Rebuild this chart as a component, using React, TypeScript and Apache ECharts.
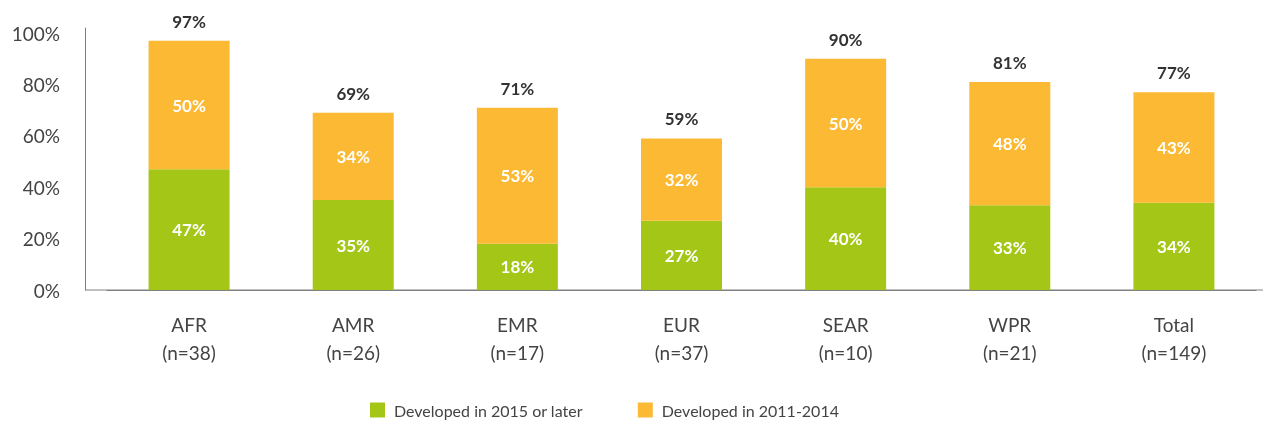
import React, { useEffect, useRef } from "react";
import * as echarts from "echarts";

const categories = ["AFR\n(n=38)", "AMR\n(n=26)", "EMR\n(n=17)", "EUR\n(n=37)", "SEAR\n(n=10)", "WPR\n(n=21)", "Total\n(n=149)"];
const developed2015Later = [47, 35, 18, 27, 40, 33, 34];
const developed2011to2014 = [50, 34, 53, 32, 50, 48, 43];
const totals = [97, 69, 71, 59, 90, 81, 77];
const seriesNames = ["Developed in 2015 or later", "Developed in 2011-2014"];

const GREEN = "#A4C617";
const ORANGE = "#FBB934";
const FONT = "Lato, 'Open Sans', sans-serif";

export default function App() {
  const ref = useRef<HTMLDivElement>(null);
  useEffect(() => {
    if (!ref.current) return;
    const chart = echarts.init(ref.current, undefined, { renderer: "svg" });
    const gridLeft = 107;
    const gridRight = 7;
    const gridTop = 28;
    const gridBottom = 132;
    const innerLabel = {
      show: true,
      position: "inside",
      color: "#fff",
      fontWeight: "bold",
      fontSize: 17,
      fontFamily: FONT,
      formatter: "{c}%",
    };
    chart.setOption({
      animation: false,
      textStyle: { fontFamily: FONT },
      grid: { left: gridLeft, right: gridRight, top: gridTop, bottom: gridBottom, containLabel: false },
      legend: {
        data: seriesNames,
        top: 397,
        left: 365,
        icon: "rect",
        itemWidth: 15,
        itemHeight: 15,
        itemGap: 55,
        textStyle: { fontSize: 16, color: "#444", fontFamily: FONT, padding: [0, 0, 0, 4] },
      },
      xAxis: {
        type: "category",
        data: categories,
        axisLine: { show: true, lineStyle: { color: "#808080", width: 1 } },
        axisTick: { show: false },
        axisLabel: { fontSize: 19, color: "#444", lineHeight: 28, margin: 20, fontFamily: FONT },
      },
      yAxis: {
        type: "value",
        min: 0,
        max: 102,
        interval: 20,
        offset: 22,
        splitLine: { show: false },
        axisTick: { show: false },
        axisLine: { show: true, lineStyle: { color: "#808080", width: 1 } },
        axisLabel: {
          fontSize: 19,
          color: "#444",
          margin: 25,
          fontFamily: FONT,
          formatter: (v: number) => (v % 20 === 0 ? v + "%" : ""),
        },
      },
      graphic: [
        {
          type: "line",
          shape: { x1: gridLeft - 22, y1: 422 - gridBottom, x2: 1263, y2: 422 - gridBottom },
          style: { stroke: "#808080", lineWidth: 1 },
          silent: true,
        },
      ],
      series: [
        {
          name: seriesNames[0],
          type: "bar",
          stack: "s",
          barWidth: 81,
          data: developed2015Later,
          itemStyle: { color: GREEN },
          label: innerLabel,
        },
        {
          name: seriesNames[1],
          type: "bar",
          stack: "s",
          barWidth: 81,
          data: developed2011to2014,
          itemStyle: { color: ORANGE },
          label: innerLabel,
        },
        {
          name: "Total",
          type: "bar",
          stack: "s",
          barWidth: 81,
          data: totals.map(() => 0),
          itemStyle: { color: "rgba(0,0,0,0)" },
          silent: true,
          label: {
            show: true,
            position: "top",
            distance: 11,
            color: "#333",
            fontWeight: "bold",
            fontSize: 17,
            fontFamily: FONT,
            formatter: (p: any) => totals[p.dataIndex] + "%",
          },
        },
      ],
    });
    return () => chart.dispose();
  }, []);
  return <div ref={ref} style={{ position: "fixed", left: 0, top: 0, width: 1263, height: 422 }} />;
}
